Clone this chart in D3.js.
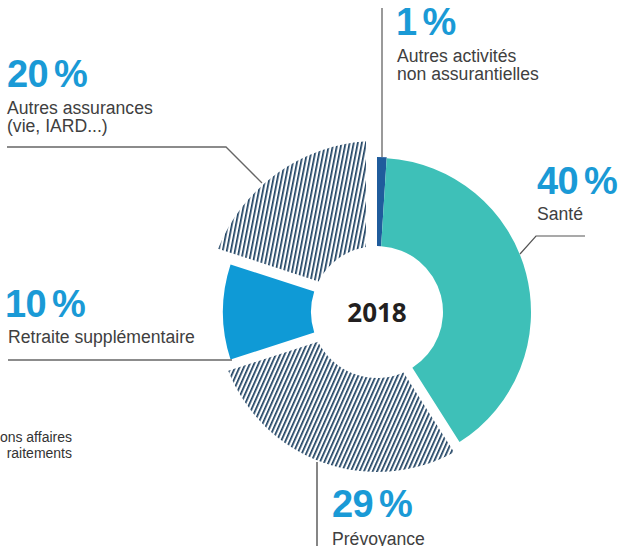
<!DOCTYPE html>
<html>
<head>
<meta charset="utf-8">
<script src="https://cdn.jsdelivr.net/npm/d3@7/dist/d3.min.js"></script>
<style>
  html, body { margin: 0; padding: 0; background: #fff; }
  svg { display: block; }
</style>
</head>
<body>
<svg id="chart" width="635" height="546"></svg>
<script>
// ---- data ----
const categories = ["Autres activités non assurantielles", "Santé", "Prévoyance", "Retraite supplémentaire", "Autres assurances (vie, IARD...)"];
const shares = [1, 40, 29, 10, 20];
const percentLabels = ["1 %", "40 %", "29 %", "10 %", "20 %"];
const labelLines = [
  ["Autres activités", "non assurantielles"],
  ["Santé"],
  ["Prévoyance"],
  ["Retraite supplémentaire"],
  ["Autres assurances", "(vie, IARD...)"]
];
const yearLabel = "2018";
const clippedLines = ["ons affaires", "raitements"];

// ---- styles / layout ----
const cx = 377, cy = 312, innerR = 66;
const sliceStyle = [
  { fill: "#1f5c9c", outer: 155, inset: 0 },
  { fill: "#3ec0b8", outer: 154, inset: 0 },
  { fill: "url(#hatchB)", outer: 160, inset: 10 },
  { fill: "#0f9ad6", outer: 154, inset: 0 },
  { fill: "url(#hatchA)", outer: 171, inset: 11 }
];
const labelLayout = [
  { x: 396, pctY: 35, textY: [62, 80], leader: [[382, 8], [382, 157]], lc: "#9a9a9a", lw: 2 },
  { x: 537, pctY: 194, textY: [220], leader: [[585, 236], [536, 236], [520, 254]], lc: "#555", lw: 1.2 },
  { x: 332, pctY: 517, textY: [545], leader: [[317, 462], [317, 546]], lc: "#444", lw: 1.3 },
  { x: 5, pctY: 317, textY: [343], leader: [[8, 360], [232, 360]], lc: "#666", lw: 1.3 },
  { x: 7, pctY: 87, textY: [114, 132], leader: [[7, 147], [226, 147], [262, 183]], lc: "#666", lw: 1.3 }
];

const svg = d3.select("#chart");
const defs = svg.append("defs");
function hatch(id, angle) {
  const p = defs.append("pattern")
    .attr("id", id).attr("patternUnits", "userSpaceOnUse")
    .attr("width", 4).attr("height", 10)
    .attr("patternTransform", `rotate(${angle})`);
  p.append("rect").attr("width", 4).attr("height", 10).attr("fill", "#fff");
  p.append("rect").attr("x", 0).attr("width", 1.7).attr("height", 10).attr("fill", "#1b3f60");
}
hatch("hatchA", 11);
hatch("hatchB", 24);

const pie = d3.pie().sort(null).value(d => d).startAngle(0).endAngle(2 * Math.PI).padAngle(0);
const arcs = pie(shares);
const padR = 100;
const arc = d3.arc()
  .innerRadius(innerR)
  .outerRadius(d => sliceStyle[d.index].outer)
  .padRadius(padR)
  .padAngle(d => 2 * Math.asin(sliceStyle[d.index].inset / padR));

const g = svg.append("g").attr("transform", `translate(${cx},${cy})`);
g.selectAll("path.slice").data(arcs).join("path")
  .attr("class", "slice")
  .attr("d", arc)
  .attr("fill", d => sliceStyle[d.index].fill);

g.append("text")
  .attr("x", 0).attr("y", 10)
  .attr("text-anchor", "middle")
  .attr("font-family", "'Open Sans', 'DejaVu Sans', sans-serif")
  .attr("font-weight", 700)
  .attr("font-size", 26)
  .attr("fill", "#231f20")
  .text(yearLabel);

// leaders
const line = d3.line();
svg.selectAll("path.leader").data(labelLayout).join("path")
  .attr("class", "leader")
  .attr("d", d => line(d.leader))
  .attr("fill", "none")
  .attr("stroke", d => d.lc)
  .attr("stroke-width", d => d.lw);

// labels
labelLayout.forEach((L, i) => {
  svg.append("text")
    .attr("x", L.x).attr("y", L.pctY)
    .attr("font-family", "'Liberation Sans', Arial, sans-serif")
    .attr("font-weight", 700)
    .attr("font-size", 38)
    .attr("letter-spacing", -0.6)
    .attr("word-spacing", -4)
    .attr("fill", "#1a9ad6")
    .text(percentLabels[i]);
  labelLines[i].forEach((t, j) => {
    svg.append("text")
      .attr("x", L.x + (i === 0 ? 1 : (i === 3 ? 3 : 0))).attr("y", L.textY[j])
      .attr("font-family", "'Liberation Sans', Arial, sans-serif")
      .attr("font-size", 17.6)
      .attr("fill", "#404040")
      .text(t);
  });
});

// clipped text from neighbouring chart
svg.selectAll("text.clip").data(clippedLines).join("text")
  .attr("class", "clip")
  .attr("x", 72).attr("y", (d, i) => 442 + i * 16)
  .attr("text-anchor", "end")
  .attr("font-family", "'Liberation Sans', Arial, sans-serif")
  .attr("font-size", 14)
  .attr("fill", "#333")
  .text(d => d);
</script>
</body>
</html>
